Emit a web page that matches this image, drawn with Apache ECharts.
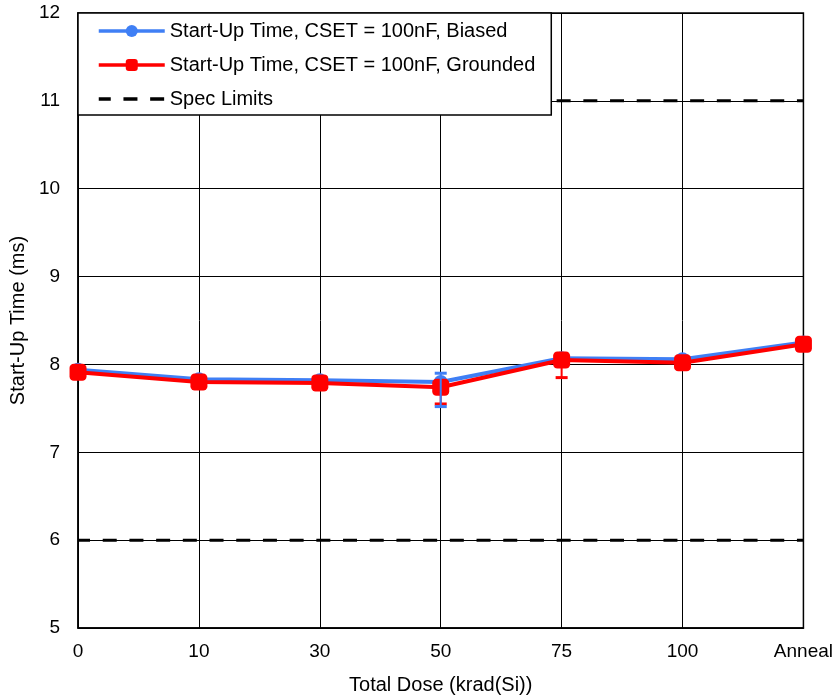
<!DOCTYPE html>
<html><head><meta charset="utf-8">
<script src="https://cdn.jsdelivr.net/npm/echarts@6/dist/echarts.min.js"></script>
<style>html,body{margin:0;padding:0;background:#fff}#c{width:836px;height:700px}</style>
</head><body><div id="c"></div>
<script>
const categories = ['0', '10', '30', '50', '75', '100', 'Anneal'];
const biased = [7.94, 7.83, 7.82, 7.80, 8.07, 8.06, 8.25];
const grounded = [7.91, 7.80, 7.79, 7.74, 8.05, 8.02, 8.23];
const specUpper = [11, 11, 11, 11, 11, 11, 11];
const specLower = [6, 6, 6, 6, 6, 6, 6];
// error bars: [categoryIndex, low, high]
const biasedErr = [[3, 7.52, 7.90]];
const groundedErr = [[3, 7.55, 7.74], [4, 7.85, 8.05]];
const yTicks = [5, 6, 7, 8, 9, 10, 11, 12];

const FONT = 'Liberation Sans, Arial, sans-serif';
const BLUE = '#3f7ff5';
const RED = '#ff0000';
function errItem(color) {
  return function (params, api) {
    const x = api.value(0);
    const lo = api.coord([x, api.value(1)]);
    const hi = api.coord([x, api.value(2)]);
    const w = 6;
    return { type: 'group', children: [
      { type: 'line', shape: { x1: lo[0], y1: lo[1], x2: hi[0], y2: hi[1] }, style: { stroke: color, lineWidth: 2 } },
      { type: 'line', shape: { x1: lo[0] - w, y1: lo[1], x2: lo[0] + w, y2: lo[1] }, style: { stroke: color, lineWidth: 3 } },
      { type: 'line', shape: { x1: hi[0] - w, y1: hi[1], x2: hi[0] + w, y2: hi[1] }, style: { stroke: color, lineWidth: 3 } }
    ]};
  };
}
const specLine = { color: '#000', width: 3, type: [14, 12.7], dashOffset: 2 };
const chart = echarts.init(document.getElementById('c'));
chart.setOption({
  animation: false,
  backgroundColor: '#fff',
  textStyle: { fontFamily: FONT },
  grid: { left: 78, right: 30, top: 13, bottom: 69, show: true, borderColor: '#000', borderWidth: 1.5, containLabel: false },
  legend: {
    left: 78, top: 13, orient: 'vertical',
    backgroundColor: '#fff', borderColor: '#000', borderWidth: 1.5, borderRadius: 0,
    padding: [8, 16, 6, 19], itemGap: 14, itemWidth: 66, itemHeight: 15,
    lineStyle: { width: 3.5 },
    textStyle: { fontFamily: FONT, fontSize: 20, color: '#000' },
    data: [
      { name: 'Start-Up Time, CSET = 100nF, Biased' },
      { name: 'Start-Up Time, CSET = 100nF, Grounded' },
      { name: 'Spec Limits', itemStyle: { opacity: 0 } }
    ]
  },
  xAxis: {
    type: 'category', data: categories, boundaryGap: false,
    name: 'Total Dose (krad(Si))', nameLocation: 'middle', nameGap: 47,
    nameTextStyle: { fontFamily: FONT, fontSize: 20, color: '#000' },
    axisLine: { lineStyle: { color: '#000', width: 1.5 } }, axisTick: { show: false },
    axisLabel: { fontFamily: FONT, fontSize: 19, color: '#000', margin: 14, showMaxLabel: true },
    splitLine: { show: true, lineStyle: { color: '#000', width: 1 } }
  },
  yAxis: {
    type: 'value', min: yTicks[0], max: yTicks[yTicks.length - 1], interval: 1,
    name: 'Start-Up Time (ms)', nameLocation: 'middle', nameGap: 50,
    nameTextStyle: { fontFamily: FONT, fontSize: 20, color: '#000' },
    axisLine: { show: true, lineStyle: { color: '#000', width: 1.5 } }, axisTick: { show: false },
    axisLabel: { fontFamily: FONT, fontSize: 19, color: '#000', margin: 18 },
    splitLine: { show: true, lineStyle: { color: '#000', width: 1 } }
  },
  series: [
    { name: 'Spec Limits', type: 'line', data: specUpper, symbol: 'none', lineStyle: specLine, itemStyle: { color: '#000' }, z: 3 },
    { name: 'Spec Limits', type: 'line', data: specLower, symbol: 'none', lineStyle: specLine, itemStyle: { color: '#000' }, z: 3 },
    { name: 'Start-Up Time, CSET = 100nF, Biased', type: 'line', data: biased, symbol: 'circle', symbolSize: 14,
      lineStyle: { color: BLUE, width: 4 }, itemStyle: { color: BLUE }, z: 4 },
    { name: 'Start-Up Time, CSET = 100nF, Grounded', type: 'line', data: grounded, symbol: 'roundRect', symbolSize: 17,
      lineStyle: { color: RED, width: 4 }, itemStyle: { color: RED }, z: 5 },
    { type: 'custom', name: 'errB', data: biasedErr, renderItem: errItem(BLUE), z: 6, silent: true },
    { type: 'custom', name: 'errG', data: groundedErr, renderItem: errItem(RED), z: 5, silent: true }
  ]
});
</script></body></html>
